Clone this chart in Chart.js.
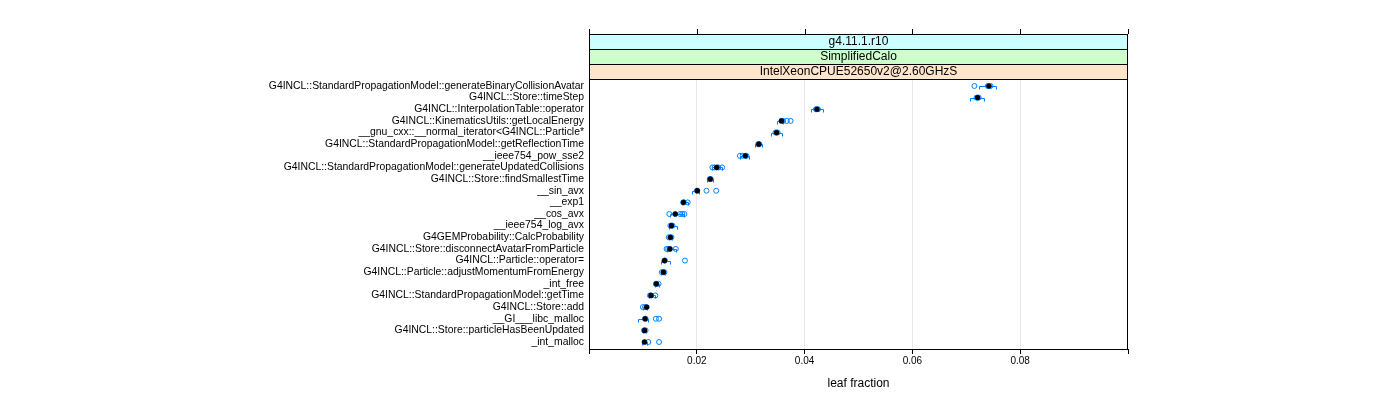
<!DOCTYPE html>
<html><head><meta charset="utf-8">
<script src="https://cdn.jsdelivr.net/npm/chart.js@4/dist/chart.umd.min.js"></script>
<style>html,body{margin:0;padding:0;background:#fff}canvas{display:block}</style>
</head><body>
<canvas id="c" width="1400" height="400"></canvas>
<script>
const functionNames = [
  "G4INCL::StandardPropagationModel::generateBinaryCollisionAvatar",
  "G4INCL::Store::timeStep",
  "G4INCL::InterpolationTable::operator",
  "G4INCL::KinematicsUtils::getLocalEnergy",
  "__gnu_cxx::__normal_iterator<G4INCL::Particle*",
  "G4INCL::StandardPropagationModel::getReflectionTime",
  "__ieee754_pow_sse2",
  "G4INCL::StandardPropagationModel::generateUpdatedCollisions",
  "G4INCL::Store::findSmallestTime",
  "__sin_avx",
  "__exp1",
  "__cos_avx",
  "__ieee754_log_avx",
  "G4GEMProbability::CalcProbability",
  "G4INCL::Store::disconnectAvatarFromParticle",
  "G4INCL::Particle::operator=",
  "G4INCL::Particle::adjustMomentumFromEnergy",
  "_int_free",
  "G4INCL::StandardPropagationModel::getTime",
  "G4INCL::Store::add",
  "__GI___libc_malloc",
  "G4INCL::Store::particleHasBeenUpdated",
  "_int_malloc"
];
const medianFraction = [0.0742,0.0721,0.0423,0.0357,0.0348,0.0315,0.0290,0.0237,0.0225,0.0201,0.0175,0.0160,0.0153,0.0151,0.0150,0.0140,0.0138,0.0125,0.0115,0.0107,0.0104,0.0103,0.0103];
const lowerFraction  = [0.0724,0.0706,0.0412,0.0349,0.0338,0.0308,0.0280,0.0229,0.0218,0.0191,0.0172,0.0150,0.0148,0.0148,0.0144,0.0134,0.0134,0.0122,0.0112,0.0100,0.0091,0.0100,0.0098];
const upperFraction  = [0.0756,0.0732,0.0435,0.0360,0.0358,0.0321,0.0296,0.0247,0.0230,0.0205,0.0183,0.0177,0.0164,0.0154,0.0161,0.0150,0.0141,0.0129,0.0123,0.0108,0.0110,0.0106,0.0108];
const runFractions = [
  [0.0715,0.0740,0.0745],
  [0.0719,0.0723],
  [0.0421,0.0425],
  [0.0360,0.0367,0.0374],
  [0.0346,0.0350],
  [0.0314,0.0316],
  [0.0280,0.0285,0.0292],
  [0.0229,0.0233,0.0240,0.0247],
  [0.0224,0.0226],
  [0.0200,0.0218,0.0236],
  [0.0176,0.0183],
  [0.0149,0.0169,0.0173,0.0177],
  [0.0151,0.0155],
  [0.0148,0.0153],
  [0.0144,0.0147,0.0161],
  [0.0141,0.0178],
  [0.0135,0.0140],
  [0.0124,0.0129],
  [0.0113,0.0123],
  [0.0100,0.0104],
  [0.0105,0.0124,0.0130],
  [0.0102,0.0105],
  [0.0110,0.0130]
];
const xTickValues = [0, 0.02, 0.04, 0.06, 0.08, 0.1];
const stripLabels = ["g4.11.1.r10", "SimplifiedCalo", "IntelXeonCPUE52650v2@2.60GHzS"];
const stripColors = ["#ccffff", "#ccffcc", "#ffe5cc"];

const FONT = '"Liberation Sans", Arial, Helvetica, sans-serif';
Chart.defaults.font.family = FONT;
Chart.defaults.color = '#000';

const BLUE = '#0080ff';
const STRIP_H = 15;

const circlePts = [];
runFractions.forEach((arr, i) => arr.forEach(v => circlePts.push({x: v, y: i + 1})));
circlePts.push(...medianFraction.map((v, i) => ({x: v, y: i + 1})));
const medianPts = medianFraction.map((v, i) => ({x: v, y: i + 1}));

const latticePlugin = {
  id: 'lattice',
  beforeDatasetsDraw(chart) {
    const {ctx, scales: {x, y}} = chart;
    ctx.save();
    ctx.strokeStyle = BLUE;
    ctx.lineWidth = 1;
    for (let i = 0; i < medianFraction.length; i++) {
      const py = Math.round(y.getPixelForValue(i + 1)) + 0.5;
      const x1 = Math.round(x.getPixelForValue(lowerFraction[i])) + 0.5;
      const x2 = Math.round(x.getPixelForValue(upperFraction[i])) + 0.5;
      ctx.beginPath();
      ctx.moveTo(x1, py + 3);
      ctx.lineTo(x1, py);
      ctx.lineTo(x2, py);
      ctx.lineTo(x2, py + 3);
      ctx.stroke();
    }
    ctx.restore();
  },
  afterDraw(chart) {
    const {ctx, chartArea: a, scales: {x}} = chart;
    ctx.save();
    const n = stripLabels.length;
    for (let k = 0; k < n; k++) {
      const top = a.top - (n - k) * STRIP_H;
      ctx.fillStyle = stripColors[k];
      ctx.fillRect(a.left, top, a.right - a.left, STRIP_H);
      ctx.strokeStyle = '#000';
      ctx.lineWidth = 1;
      ctx.strokeRect(a.left + 0.5, top + 0.5, a.right - a.left - 1, STRIP_H);
      ctx.fillStyle = '#000';
      ctx.font = '12px ' + FONT;
      ctx.textAlign = 'center';
      ctx.textBaseline = 'middle';
      ctx.fillText(stripLabels[k], (a.left + a.right) / 2, top + STRIP_H / 2 + 0.5);
    }
    const stripTop = a.top - n * STRIP_H;
    ctx.strokeStyle = '#000';
    xTickValues.forEach(v => {
      const px = Math.round(x.getPixelForValue(v)) + 0.5;
      ctx.beginPath();
      ctx.moveTo(px, stripTop - 5);
      ctx.lineTo(px, stripTop);
      ctx.stroke();
    });
    ctx.strokeRect(a.left + 0.5, a.top + 0.5, a.right - a.left - 1, a.bottom - a.top);
    ctx.restore();
  }
};

new Chart(document.getElementById('c'), {
  type: 'scatter',
  data: {
    datasets: [
      {
        label: 'runs',
        data: circlePts,
        pointStyle: 'circle',
        pointRadius: 2.5,
        pointBorderWidth: 1,
        pointBorderColor: BLUE,
        pointBackgroundColor: 'rgba(0,0,0,0)',
        order: 2
      },
      {
        label: 'median',
        data: medianPts,
        pointStyle: 'circle',
        pointRadius: 2.6,
        pointBorderWidth: 0,
        pointBackgroundColor: '#000',
        pointBorderColor: '#000',
        order: 1
      }
    ]
  },
  options: {
    responsive: false,
    animation: false,
    devicePixelRatio: 1,
    layout: {padding: {top: 79, right: 272, left: 0, bottom: 0}},
    plugins: {legend: {display: false}, tooltip: {enabled: false}},
    scales: {
      x: {
        type: 'linear',
        min: 0,
        max: 0.1,
        afterBuildTicks: s => { s.ticks = xTickValues.map(v => ({value: v})); },
        afterFit: s => { s.height = 51; },
        ticks: {
          font: {size: 10},
          color: '#000',
          padding: 1,
          maxRotation: 0,
          autoSkip: false,
          callback: v => (v > 0.001 && v < 0.099) ? v.toFixed(2) : ''
        },
        grid: {
          color: c => (c.tick && c.tick.value > 0.001 && c.tick.value < 0.099) ? '#e8e8e8' : 'rgba(0,0,0,0)',
          tickColor: '#000',
          tickLength: 5,
          drawTicks: true
        },
        border: {display: false},
        title: {display: true, text: 'leaf fraction', font: {size: 12}, color: '#000', padding: {top: 4, bottom: 9}}
      },
      y: {
        type: 'linear',
        reverse: true,
        min: 0.4,
        max: functionNames.length + 0.6,
        afterBuildTicks: s => { s.ticks = functionNames.map((_, i) => ({value: i + 1})); },
        afterFit: s => { s.width = 589; },
        ticks: {
          font: {size: 10.4},
          color: '#000',
          padding: 5,
          autoSkip: false,
          callback: v => functionNames[Math.round(v) - 1] || ''
        },
        grid: {display: false, drawTicks: false},
        border: {display: false}
      }
    }
  },
  plugins: [latticePlugin]
});
</script>
</body></html>
